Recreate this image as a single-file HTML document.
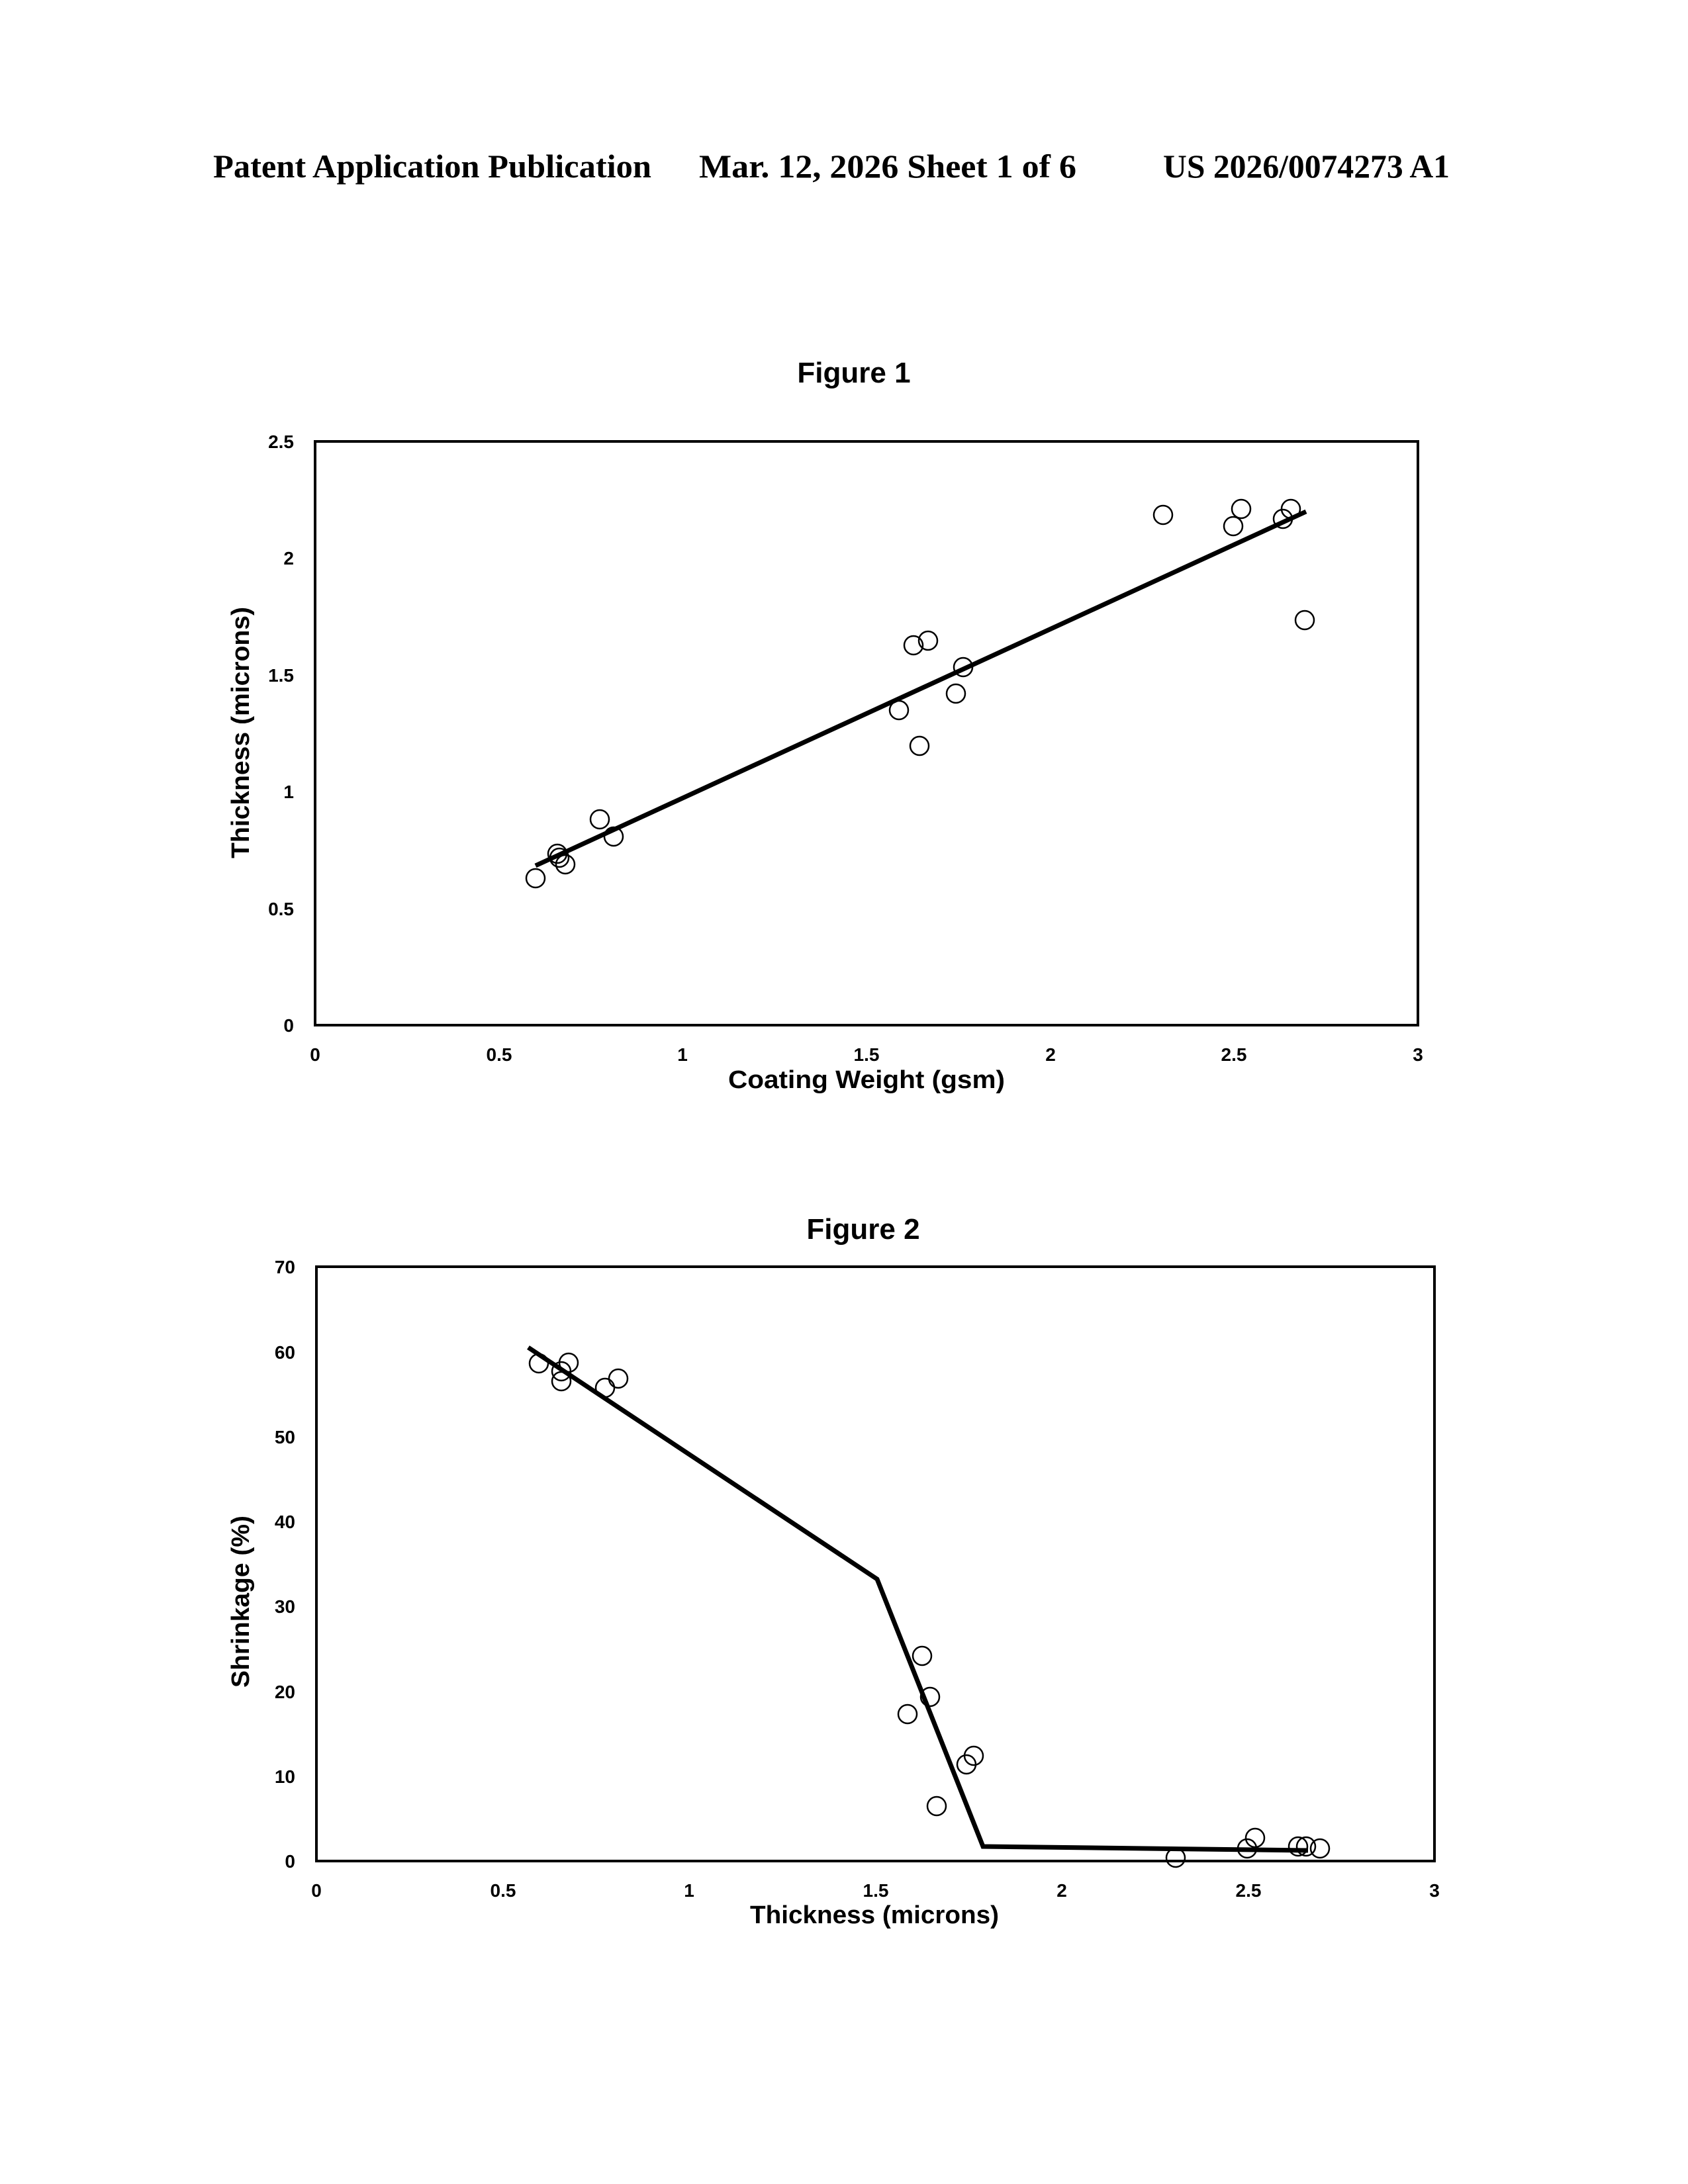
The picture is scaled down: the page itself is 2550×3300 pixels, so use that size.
<!DOCTYPE html>
<html><head><meta charset="utf-8"><style>html,body{margin:0;padding:0;background:#fff}svg{display:block}</style></head>
<body>
<svg width="2550" height="3300" viewBox="0 0 2550 3300" xmlns="http://www.w3.org/2000/svg">
<rect width="2550" height="3300" fill="#fff"/>
<g font-family="Liberation Serif, serif" font-weight="bold" font-size="50" fill="#000">
<text x="322" y="268" textLength="662" lengthAdjust="spacingAndGlyphs">Patent Application Publication</text>
<text x="1056" y="268" textLength="570" lengthAdjust="spacingAndGlyphs">Mar. 12, 2026  Sheet 1 of 6</text>
<text x="1757" y="268" textLength="433" lengthAdjust="spacingAndGlyphs">US 2026/0074273 A1</text>
</g>
<g font-family="Liberation Sans, sans-serif" font-weight="bold" fill="#000">
<!-- Figure 1 -->
<text x="1290" y="578" font-size="44" text-anchor="middle">Figure 1</text>
<rect x="476" y="667" width="1666" height="882" fill="none" stroke="#000" stroke-width="4"/>
<g font-size="28" text-anchor="end">
<text x="444" y="1559">0</text><text x="444" y="1383">0.5</text><text x="444" y="1206">1</text>
<text x="444" y="1030">1.5</text><text x="444" y="853">2</text><text x="444" y="677">2.5</text>
</g>
<g font-size="28" text-anchor="middle">
<text x="476" y="1603">0</text><text x="754" y="1603">0.5</text><text x="1031" y="1603">1</text>
<text x="1309" y="1603">1.5</text><text x="1587" y="1603">2</text><text x="1864" y="1603">2.5</text><text x="2142" y="1603">3</text>
</g>
<text x="1309" y="1644" font-size="38" text-anchor="middle" textLength="418" lengthAdjust="spacingAndGlyphs">Coating Weight  (gsm)</text>
<text transform="translate(376,1107) rotate(-90)" font-size="38" text-anchor="middle" textLength="380" lengthAdjust="spacingAndGlyphs">Thickness (microns)</text>
<!-- Figure 2 -->
<text x="1304" y="1872" font-size="44" text-anchor="middle">Figure 2</text>
<rect x="478" y="1914" width="1689" height="898" fill="none" stroke="#000" stroke-width="4"/>
<g font-size="28" text-anchor="end">
<text x="446" y="2822">0</text><text x="446" y="2694">10</text><text x="446" y="2566">20</text>
<text x="446" y="2437">30</text><text x="446" y="2309">40</text><text x="446" y="2181">50</text>
<text x="446" y="2053">60</text><text x="446" y="1924">70</text>
</g>
<g font-size="28" text-anchor="middle">
<text x="478" y="2866">0</text><text x="760" y="2866">0.5</text><text x="1041" y="2866">1</text>
<text x="1323" y="2866">1.5</text><text x="1604" y="2866">2</text><text x="1886" y="2866">2.5</text><text x="2167" y="2866">3</text>
</g>
<text x="1321" y="2906" font-size="38" text-anchor="middle" textLength="376" lengthAdjust="spacingAndGlyphs">Thickness (microns)</text>
<text transform="translate(376,2420) rotate(-90)" font-size="38" text-anchor="middle" textLength="260" lengthAdjust="spacingAndGlyphs">Shrinkage (%)</text>
</g>
<!-- Fig1 data: x=476+v*555.3, y=1549-v*352.8 -->
<polyline points="809,1308 1973,773" fill="none" stroke="#000" stroke-width="7"/>
<g fill="none" stroke="#000" stroke-width="2.5">
<circle cx="809" cy="1327" r="14"/><circle cx="842" cy="1290" r="14"/><circle cx="845" cy="1296" r="14"/>
<circle cx="854" cy="1306" r="14"/><circle cx="906" cy="1238" r="14"/><circle cx="927" cy="1264" r="14"/>
<circle cx="1358" cy="1073" r="14"/><circle cx="1389" cy="1127" r="14"/><circle cx="1380" cy="975" r="14"/>
<circle cx="1402" cy="968" r="14"/><circle cx="1444" cy="1048" r="14"/><circle cx="1455" cy="1008" r="14"/>
<circle cx="1757" cy="778" r="14"/><circle cx="1863" cy="795" r="14"/><circle cx="1875" cy="769" r="14"/>
<circle cx="1938" cy="784" r="14"/><circle cx="1950" cy="769" r="14"/><circle cx="1971" cy="937" r="14"/>
</g>
<!-- Fig2 data: x=478+v*563, y=2812-v*12.83 -->
<polyline points="798,2036 1325,2386 1485,2790 1976,2796" fill="none" stroke="#000" stroke-width="7" stroke-linejoin="miter"/>
<g fill="none" stroke="#000" stroke-width="2.5">
<circle cx="814" cy="2060" r="14"/><circle cx="848" cy="2072" r="14"/><circle cx="848" cy="2087" r="14"/>
<circle cx="859" cy="2059" r="14"/><circle cx="914" cy="2097" r="14"/><circle cx="934" cy="2083" r="14"/>
<circle cx="1371" cy="2590" r="14"/><circle cx="1393" cy="2502" r="14"/><circle cx="1405" cy="2564" r="14"/>
<circle cx="1415" cy="2729" r="14"/><circle cx="1460" cy="2666" r="14"/><circle cx="1471" cy="2653" r="14"/>
<circle cx="1776" cy="2807" r="14"/><circle cx="1884" cy="2793" r="14"/><circle cx="1896" cy="2777" r="14"/>
<circle cx="1961" cy="2790" r="14"/><circle cx="1973" cy="2790" r="14"/><circle cx="1994" cy="2793" r="14"/>
</g>
</svg>
</body></html>
